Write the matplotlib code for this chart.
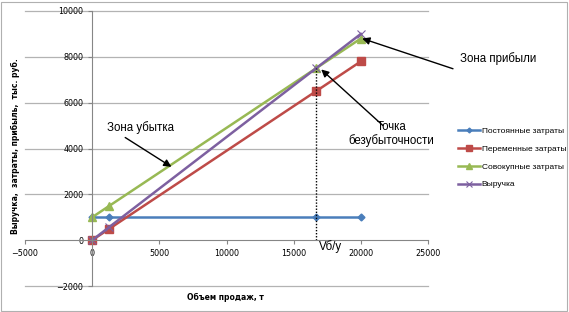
import numpy as np
import matplotlib
matplotlib.use("Agg")
import matplotlib.pyplot as plt
from matplotlib.patches import Rectangle

# data (объем продаж, т / тыс. руб.)
volume = [0, 1250, 16667, 20000]
fixed_costs = [1000, 1000, 1000, 1000]
variable_costs = [0, 487, 6500, 7800]
total_costs = [1000, 1487, 7500, 8800]
revenue = [0, 562, 7500, 9000]
breakeven_x = 16667
breakeven_y = 7500

x_ticks = [-5000, 0, 5000, 10000, 15000, 20000, 25000]
y_ticks = [-2000, 0, 2000, 4000, 6000, 8000, 10000]

fig = plt.figure(figsize=(5.69, 3.12), dpi=100)
fig.patches.append(Rectangle((0.002, 0.003), 0.995, 0.992, transform=fig.transFigure,
                             fill=False, edgecolor="#b0b0b0", lw=0.8))
ax = fig.add_axes([25 / 569, 26 / 312, 403 / 569, 275 / 312])

ax.set_xlim(-5000, 25000)
ax.set_ylim(-2000, 10000)
ax.set_xticks(x_ticks)
ax.set_yticks(y_ticks)
ax.tick_params(labelsize=5.8, length=3, color="#868686", direction="out")
for yv in y_ticks:
    if yv != 0:
        ax.axhline(yv, color="#b3b3b3", lw=0.9, clip_on=False, zorder=0)
for s in ["top", "right"]:
    ax.spines[s].set_visible(False)
ax.spines["left"].set_position(("data", 0))
ax.spines["bottom"].set_position(("data", 0))
ax.spines["left"].set_color("#868686")
ax.spines["bottom"].set_color("#868686")

ax.plot(volume, fixed_costs, color="#4a7ebb", lw=1.8, marker="D", ms=3.5, label="Постоянные затраты")
ax.plot(volume, variable_costs, color="#be4b48", lw=1.8, marker="s", ms=6, label="Переменные затраты")
ax.plot(volume, total_costs, color="#98b954", lw=1.8, marker="^", ms=6, label="Совокупные затраты")
ax.plot(volume, revenue, color="#7d60a0", lw=1.8, marker="x", ms=6, mew=0.8, label="Выручка")

ax.plot([breakeven_x, breakeven_x], [0, breakeven_y], color="black", lw=1, ls=(0, (1, 1.2)))

ax.set_xlabel("Объем продаж, т", fontsize=5.5, fontweight="bold")
ax.xaxis.set_label_coords(0.496, -0.025)
ax.set_ylabel("Выручка,  затраты, прибыль,  тыс. руб.", fontsize=5.5, fontweight="bold")
ax.yaxis.set_label_coords(-0.012, 0.51)

tfont = dict(family="Liberation Sans", fontsize=8.3)
arrow = dict(arrowstyle="-|>", color="black", lw=1, mutation_scale=11, shrinkA=0, shrinkB=0)
ax.annotate("", xy=(5900, 3200), xytext=(2460, 4480), arrowprops=arrow, annotation_clip=False)
ax.text(3570, 4920, "Зона убытка", ha="center", va="center", **tfont)
ax.annotate("", xy=(20100, 8800), xytext=(26860, 7480), arrowprops=arrow, annotation_clip=False)
ax.text(27400, 7920, "Зона прибыли", ha="left", va="center", **tfont)
ax.annotate("", xy=(17050, 7450), xytext=(21650, 5000), arrowprops=arrow, annotation_clip=False)
ax.text(22300, 4650, "Точка\nбезубыточности", ha="center", va="center", linespacing=1.1, **tfont)
ax.text(16850, 0, "Vб/у", ha="left", va="top", **tfont)

ax.legend(loc="upper left", bbox_to_anchor=(454 / 569, 1 - 123 / 312), bbox_transform=fig.transFigure,
          frameon=False, prop=dict(family="Liberation Sans", size=6.0), handlelength=2.6,
          labelspacing=1.2, borderpad=0, handletextpad=0.2, markerscale=0.7)

fig.savefig("out.png", dpi=100)
